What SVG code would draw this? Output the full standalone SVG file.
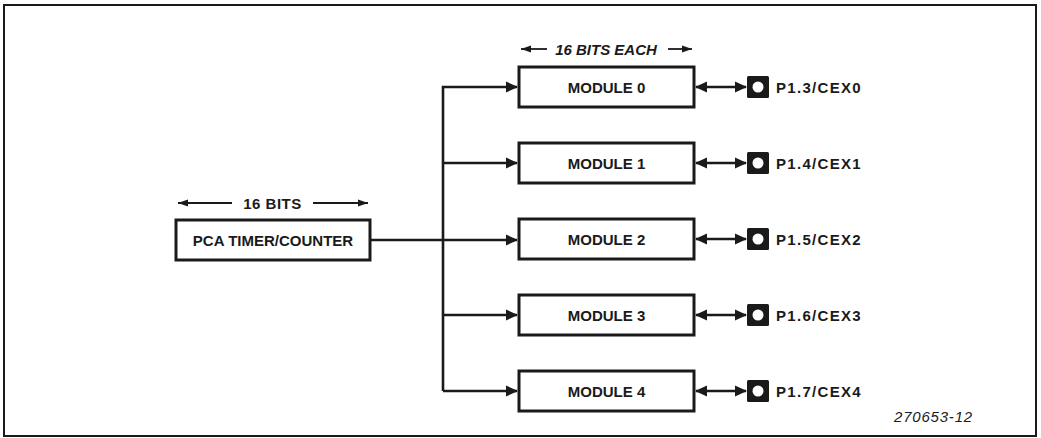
<svg xmlns="http://www.w3.org/2000/svg" width="1041" height="438" viewBox="0 0 1041 438">
<style>
.box{fill:#fff;stroke:#1a1a1a;stroke-width:3}
.lbl{font-family:"Liberation Sans",Arial,sans-serif;font-weight:bold;font-size:15px;fill:#1a1a1a}
.mid{text-anchor:middle}
.pin{letter-spacing:1.3px}
.wire{fill:none;stroke:#1a1a1a;stroke-width:2.6}
.dim{fill:none;stroke:#1a1a1a;stroke-width:1.8}
</style>
<defs>
<marker id="ah" markerUnits="userSpaceOnUse" markerWidth="12" markerHeight="12" refX="11" refY="6" orient="auto-start-reverse" viewBox="0 0 12 12">
<path d="M0,0.5 L12,6 L0,11.5 z" fill="#1a1a1a"/>
</marker>
<marker id="ds" markerUnits="userSpaceOnUse" markerWidth="10" markerHeight="8" refX="10" refY="4" orient="auto-start-reverse" viewBox="0 0 10 8">
<path d="M0,0.5 L10,4 L0,7.5 z" fill="#1a1a1a"/>
</marker>
<g id="pinShape">
<rect x="-11" y="-11" width="22" height="22" rx="1.5" fill="#1a1a1a"/>
<circle cx="0" cy="0" r="5.5" fill="#fff"/>
</g>
</defs>
<rect x="4" y="5" width="1032" height="431" fill="#fff" stroke="#1a1a1a" stroke-width="2"/>

<g id="connectors">
<path class="wire" d="M370,240 H517" marker-end="url(#ah)"/>
<path class="wire" d="M443,391 V87 H517" marker-end="url(#ah)"/>
<path class="wire" d="M443,163 H517" marker-end="url(#ah)"/>
<path class="wire" d="M443,315 H517" marker-end="url(#ah)"/>
<path class="wire" d="M443,391 H517" marker-end="url(#ah)"/>
<path class="wire" d="M696,87 H746" marker-start="url(#ah)" marker-end="url(#ah)"/>
<path class="wire" d="M696,163 H746" marker-start="url(#ah)" marker-end="url(#ah)"/>
<path class="wire" d="M696,239 H746" marker-start="url(#ah)" marker-end="url(#ah)"/>
<path class="wire" d="M696,315 H746" marker-start="url(#ah)" marker-end="url(#ah)"/>
<path class="wire" d="M696,391 H746" marker-start="url(#ah)" marker-end="url(#ah)"/>
</g>

<g id="dim-16bits">
<path class="dim" d="M232,203 H178" marker-end="url(#ds)"/>
<path class="dim" d="M313,203 H368" marker-end="url(#ds)"/>
<text class="lbl mid" x="272.5" y="208.5" letter-spacing="0.5">16 BITS</text>
</g>
<g id="dim-16bitseach">
<path class="dim" d="M547,49 H521" marker-end="url(#ds)"/>
<path class="dim" d="M668,49 H692" marker-end="url(#ds)"/>
<text class="lbl mid" x="606" y="54.5" font-style="italic">16 BITS EACH</text>
</g>

<g id="pca">
<rect class="box" x="176" y="220" width="194" height="40"/>
<text class="lbl mid" x="273" y="245.5">PCA TIMER/COUNTER</text>
</g>

<g id="module0">
<rect class="box" x="519" y="67" width="175" height="40"/>
<text class="lbl mid" x="606.5" y="92.5">MODULE 0</text>
</g>
<g id="module1">
<rect class="box" x="519" y="143" width="175" height="40"/>
<text class="lbl mid" x="606.5" y="168.5">MODULE 1</text>
</g>
<g id="module2">
<rect class="box" x="519" y="219" width="175" height="40"/>
<text class="lbl mid" x="606.5" y="244.5">MODULE 2</text>
</g>
<g id="module3">
<rect class="box" x="519" y="295" width="175" height="40"/>
<text class="lbl mid" x="606.5" y="320.5">MODULE 3</text>
</g>
<g id="module4">
<rect class="box" x="519" y="371" width="175" height="40"/>
<text class="lbl mid" x="606.5" y="396.5">MODULE 4</text>
</g>

<g id="pin0"><use href="#pinShape" x="758" y="87"/><text class="lbl pin" x="776" y="92.5">P1.3/CEX0</text></g>
<g id="pin1"><use href="#pinShape" x="758" y="163"/><text class="lbl pin" x="776" y="168.5">P1.4/CEX1</text></g>
<g id="pin2"><use href="#pinShape" x="758" y="239"/><text class="lbl pin" x="776" y="244.5">P1.5/CEX2</text></g>
<g id="pin3"><use href="#pinShape" x="758" y="315"/><text class="lbl pin" x="776" y="320.5">P1.6/CEX3</text></g>
<g id="pin4"><use href="#pinShape" x="758" y="391"/><text class="lbl pin" x="776" y="396.5">P1.7/CEX4</text></g>

<text x="894" y="422" font-family="'Liberation Sans',Arial,sans-serif" font-size="15" font-style="italic" letter-spacing="0.8" fill="#1a1a1a">270653-12</text>
</svg>
